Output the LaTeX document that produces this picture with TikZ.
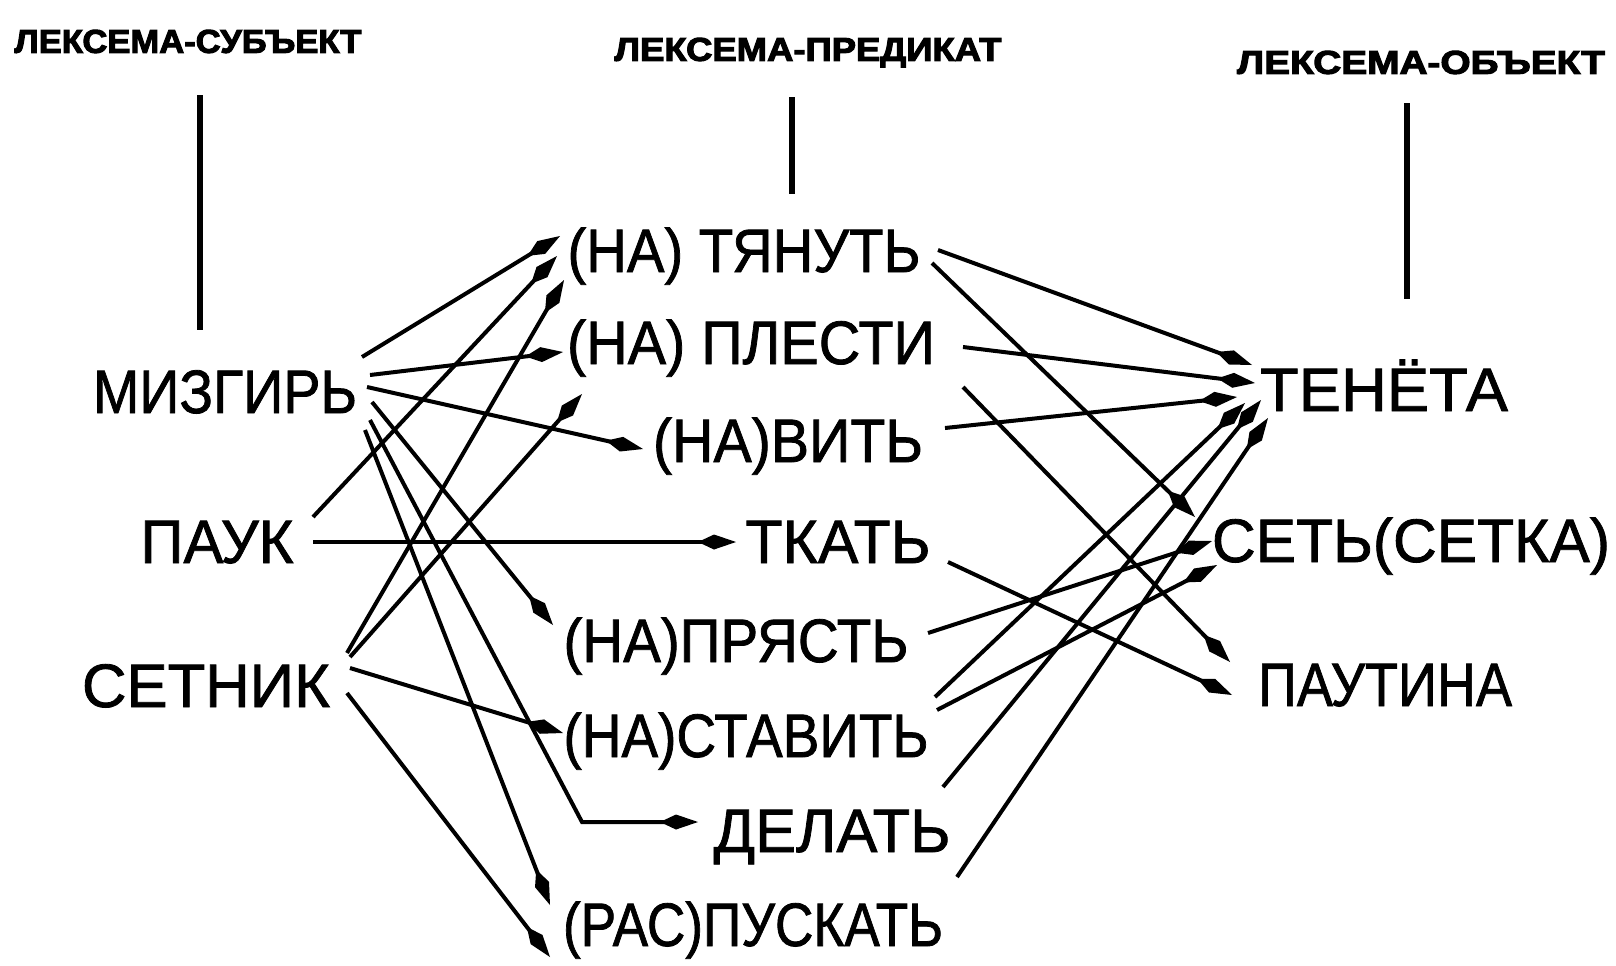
\documentclass[tikz,border=0pt]{standalone}
\usepackage{fontspec}
\setmainfont{Liberation Sans}
\newfontfamily\lexfont[FakeBold=1.3]{Liberation Sans}
\newfontfamily\hdrfont[FakeBold=3]{Liberation Sans Bold}
\usetikzlibrary{arrows.meta}
\newcommand{\fitw}[2]{\resizebox{#1}{\height}{#2}}
\begin{document}
\begin{tikzpicture}[x=0.5pt,y=-0.5pt,
  lex/.style={inner sep=0pt, text height=22pt, text depth=0pt, font=\lexfont\fontsize{30.7}{32}\selectfont},
  hdr/.style={inner sep=0pt, text height=11.8pt, text depth=0pt, font=\hdrfont\fontsize{16.5}{18}\selectfont},
  conn/.style={line width=2pt, -{Kite[length=19pt,width=7.5pt,inset=8pt]}},
  col/.style={line width=2.7pt}]
\fill[white] (0,0) rectangle (1616,965);
\useasboundingbox (0,0) rectangle (1616,965);

% headers
\node[hdr] (h1) at (188,41) {\fitw{173.5pt}{ЛЕКСЕМА-СУБЪЕКТ}};
\node[hdr] (h2) at (808,49) {\fitw{193.5pt}{ЛЕКСЕМА-ПРЕДИКАТ}};
\node[hdr] (h3) at (1421,62) {\fitw{184pt}{ЛЕКСЕМА-ОБЪЕКТ}};

% subjects
\node[lex] (miz) at (225,391) {\fitw{132pt}{МИЗГИРЬ}};
\node[lex] (pauk) at (217,541) {\fitw{76.5pt}{ПАУК}};
\node[lex] (setn) at (206,685) {\fitw{124pt}{СЕТНИК}};

% predicates
\node[lex] (tya) at (744,250) {\fitw{176.5pt}{(НА) ТЯНУТЬ}};
\node[lex] (ple) at (751,342) {\fitw{184pt}{(НА) ПЛЕСТИ}};
\node[lex] (vit) at (788,440) {\fitw{135pt}{(НА)ВИТЬ}};
\node[lex] (tka) at (838,541) {\fitw{92.5pt}{ТКАТЬ}};
\node[lex] (pry) at (736,640) {\fitw{172.5pt}{(НА)ПРЯСТЬ}};
\node[lex] (sta) at (746,735) {\fitw{182.5pt}{(НА)СТАВИТЬ}};
\node[lex] (del) at (832,830) {\fitw{118.5pt}{ДЕЛАТЬ}};
\node[lex] (pus) at (753,924) {\fitw{190pt}{(РАС)ПУСКАТЬ}};

% objects
\node[lex] (ten) at (1384,389) {\fitw{124pt}{ТЕНЁТА}};
\node[lex] (set) at (1411,540) {\fitw{199pt}{СЕТЬ(СЕТКА)}};
\node[lex] (paut) at (1385,684) {\fitw{127pt}{ПАУТИНА}};

% column lines
\draw[col] ([shift={(12,54)}]h1.center) -- ([shift={(-25,-61)}]miz.center);
\draw[col] ([shift={(-16,48)}]h2.center) -- ([shift={(48,-56)}]tya.center);
\draw[col] ([shift={(-14,41)}]h3.center) -- ([shift={(23,-90)}]ten.center);

% subject -> predicate
\draw[conn] ([shift={(137,-34)}]miz.center) -- ([shift={(-184,-14)}]tya.center);
\draw[conn] ([shift={(145,-16)}]miz.center) -- ([shift={(-188,10)}]ple.center);
\draw[conn] ([shift={(142,-4)}]miz.center) -- ([shift={(-145,9)}]vit.center);
\draw[conn] ([shift={(147,11)}]miz.center) -- ([shift={(-183,-15)}]pry.center);
\draw[conn] ([shift={(145,29)}]miz.center) -- ([shift={(-250,-8)}]del.center) -- ([shift={(-134,-8)}]del.center);
\draw[conn] ([shift={(140,39)}]miz.center) -- ([shift={(-203,-19)}]pus.center);

\draw[conn] ([shift={(96,-24)}]pauk.center) -- ([shift={(-187,6)}]tya.center);
\draw[conn] ([shift={(96,1)}]pauk.center) -- ([shift={(-102,1)}]tka.center);

\draw[conn] ([shift={(141,-32)}]setn.center) -- ([shift={(-180,30)}]tya.center);
\draw[conn] ([shift={(144,-28)}]setn.center) -- ([shift={(-169,52)}]ple.center);
\draw[conn] ([shift={(144,-17)}]setn.center) -- ([shift={(-183,-2)}]sta.center);
\draw[conn] ([shift={(141,8)}]setn.center) -- ([shift={(-203,33)}]pus.center);

% predicate -> object
\draw[conn] ([shift={(194,0)}]tya.center) -- ([shift={(-132,-24)}]ten.center);
\draw[conn] ([shift={(188,13)}]tya.center) -- ([shift={(-216,-23)}]set.center);
\draw[conn] ([shift={(212,5)}]ple.center) -- ([shift={(-129,-6)}]ten.center);
\draw[conn] ([shift={(212,45)}]ple.center) -- ([shift={(-155,-22)}]paut.center);
\draw[conn] ([shift={(157,-12)}]vit.center) -- ([shift={(-147,8)}]ten.center);
\draw[conn] ([shift={(110,21)}]tka.center) -- ([shift={(-153,11)}]paut.center);
\draw[conn] ([shift={(192,-7)}]pry.center) -- ([shift={(-199,1)}]set.center);
\draw[conn] ([shift={(189,-38)}]sta.center) -- ([shift={(-139,14)}]ten.center);
\draw[conn] ([shift={(191,-25)}]sta.center) -- ([shift={(-194,25)}]set.center);
\draw[conn] ([shift={(111,-43)}]del.center) -- ([shift={(-123,11)}]ten.center);
\draw[conn] ([shift={(204,-47)}]pus.center) -- ([shift={(-116,29)}]ten.center);
\end{tikzpicture}
\end{document}
